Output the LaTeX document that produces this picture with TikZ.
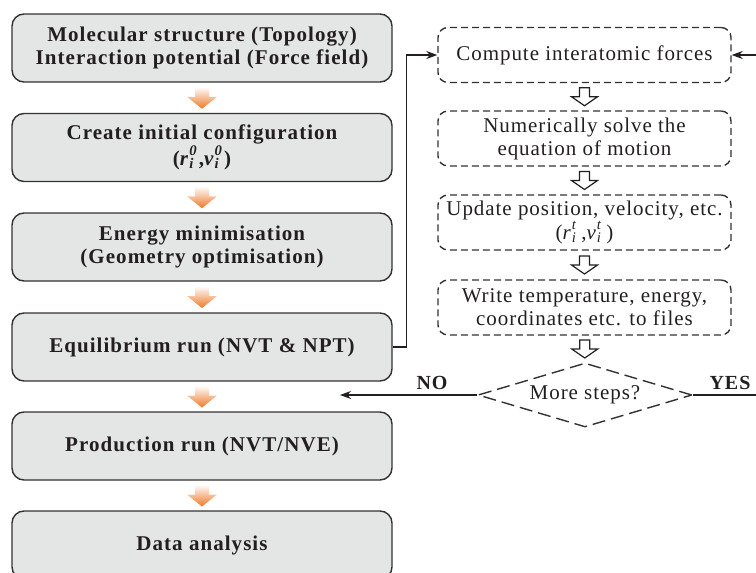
\documentclass[tikz,border=0pt]{standalone}
\usepackage{fontspec}
\setmainfont{Liberation Serif}
\usetikzlibrary{shapes,calc,positioning,arrows.meta}
\definecolor{boxgray}{RGB}{228,229,229}
\definecolor{linegray}{RGB}{50,50,50}
\definecolor{txt}{RGB}{35,31,32}
\definecolor{orangeD}{RGB}{238,120,40}
\definecolor{orangeL}{RGB}{246,172,112}
\tikzstyle{stage} = [draw=linegray, line width=1.4pt, fill=boxgray, rounded corners=12pt, minimum width=380pt, minimum height=68pt, align=center, text=txt, font=\fontsize{21}{23}\selectfont\bfseries\addfontfeature{LetterSpace=5}]
\tikzstyle{task} = [draw=linegray, line width=1.4pt, dash pattern=on 7pt off 4pt, rounded corners=10pt, minimum width=293pt, minimum height=55pt, align=center, text=txt, font=\fontsize{21}{23}\selectfont\addfontfeature{LetterSpace=4.5}]
\tikzstyle{check} = [diamond, draw=linegray, line width=1.4pt, dash pattern=on 13pt off 6pt, minimum width=214pt, minimum height=64pt, inner sep=0pt, shape aspect=3.3, text=txt, font=\fontsize{21}{23}\selectfont\addfontfeature{LetterSpace=4.5}]
\tikzstyle{flow} = [line width=1.2pt, draw=txt, -{Stealth[length=11pt,width=8pt]}]
\tikzstyle{tag} = [text=txt, font=\fontsize{20}{22}\selectfont\bfseries\addfontfeature{LetterSpace=5}]
\tikzstyle{hollow} = [draw=txt, line width=1.2pt, fill=white]
\tikzstyle{orangearrow} = [top color=white, middle color=orangeL, bottom color=orangeD]
\newcommand{\idx}[2]{\makebox[0.45em][l]{\rlap{\raisebox{0.15em}{\textsuperscript{#2}}}\textsubscript{#1}}}

\begin{document}
\begin{tikzpicture}[x=1pt,y=-1pt]
		\useasboundingbox (0,0) rectangle (756,573);
		% left column
		\node[stage] (topo) at (202,48) {Molecular structure (Topology)\\Interaction potential (Force field)};
		\node[stage] (init) at (202,147.5) {Create initial configuration\\(\textit{r}\idx{\textit{i}}{\textit{0}},\textit{v}\idx{\textit{i}}{\textit{0}})};
		\node[stage] (emin) at (202,247) {Energy minimisation\\(Geometry optimisation)};
		\node[stage] (equi) at (202,347) {Equilibrium run (NVT \& NPT)};
		\node[stage] (prod) at (202,446) {Production run (NVT/NVE)};
		\node[stage] (anal) at (202,545) {Data analysis};
		\foreach \a/\b in {topo/init, init/emin, emin/equi, equi/prod, prod/anal}
			\shade[orangearrow] ($(\a.south)!0.5!(\b.north)$) ++(-7,-11) -- ++(14,0) -- ++(0,10)
				-- ++(8,0) -- ++(-15,12) -- ++(-15,-12) -- ++(8,0) -- cycle;
		% right column
		\node[task] (force) at (584.5,55) {Compute interatomic forces};
		\node[task] (solve) at (584.5,138.5) {Numerically solve the\\equation of motion};
		\node[task] (update) at (584.5,222.5) {Update position, velocity, etc.\\(\textit{r}\idx{\textit{i}}{\textit{t}},\textit{v}\idx{\textit{i}}{\textit{t}})};
		\node[task] (write) at (584.5,307.5) {Write temperature, energy,\\coordinates etc. to files};
		\node[check] (more) at (585,395) {More steps?};
		\foreach \a/\b in {force/solve, solve/update, update/write, write/more}
			\draw[hollow] ($(\a.south)!0.5!(\b.north)$) ++(-5,-9) -- ++(10,0) -- ++(0,9)
				-- ++(8,0) -- ++(-13,9) -- ++(-13,-9) -- ++(8,0) -- cycle;
		\coordinate (noend) at (340,395);
		\coordinate (yesturn) at (775,395);
		\draw[flow] (equi.east) -- ++(14,0) |- (force.west);
		\draw[flow] (more.west) -- (noend);
		\draw[flow] (more.east) -- (yesturn) |- (force.east);
		\node[tag] (no) at (432,383) {NO};
		\node[tag] (yes) at (730,383) {YES};
	\end{tikzpicture}
\end{document}
